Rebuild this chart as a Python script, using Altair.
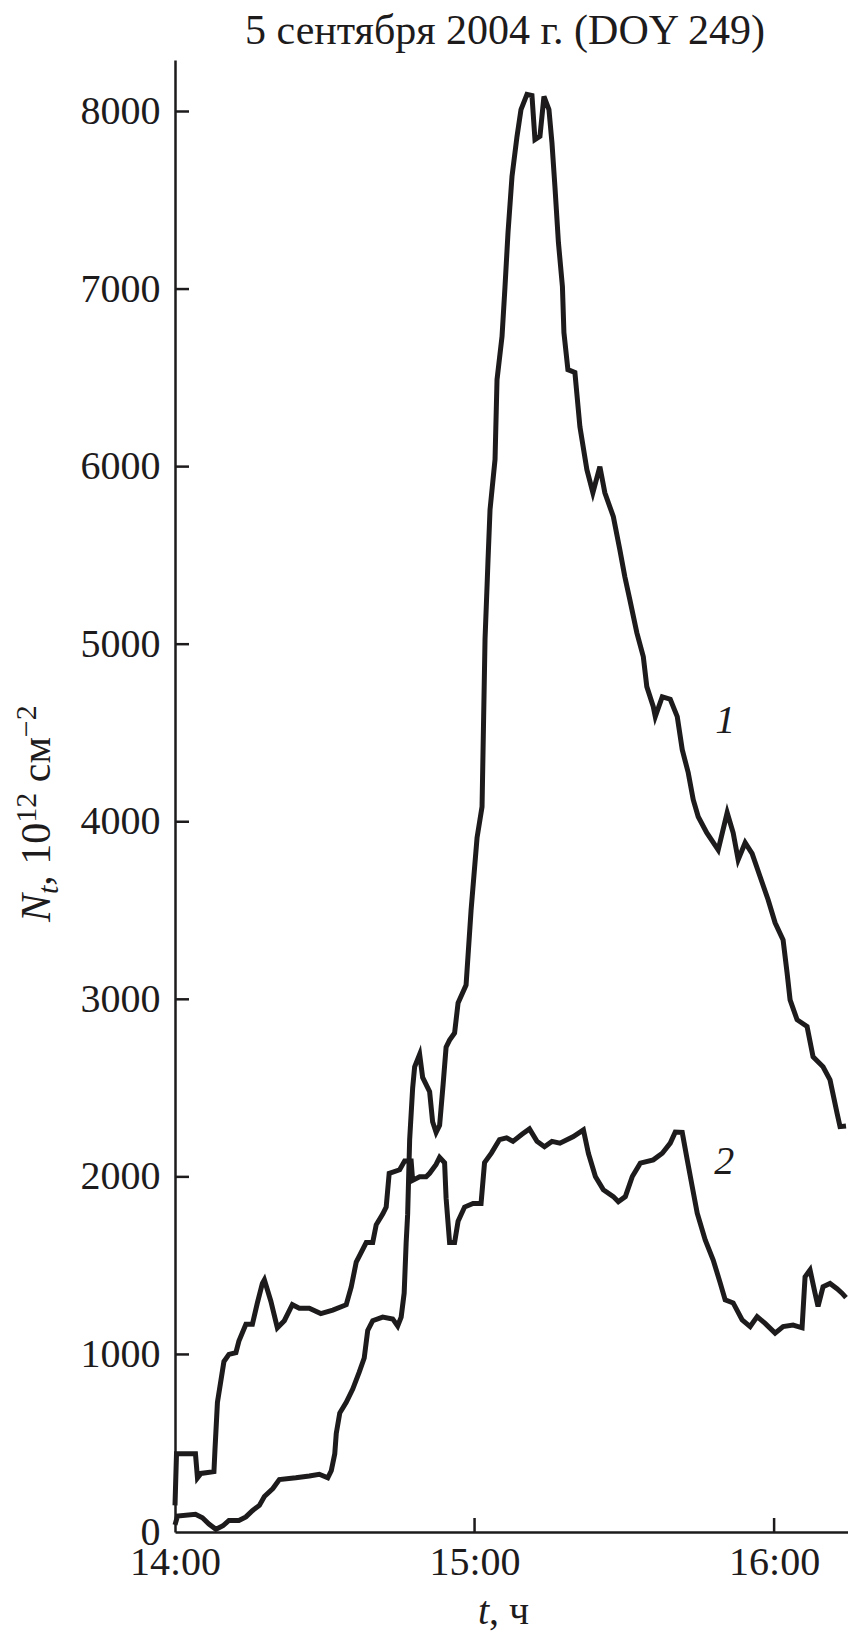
import altair as alt
import pandas as pd

# Curve 1: minutes after 14:00 and N_t (10^12 cm^-2)
T1 = [0.0, 0.5, 4.1, 5.5, 6.8, 8.2, 9.6, 10.8, 12.8, 14.2,
      15.5, 16.9, 17.9, 19.6, 20.9, 24.2, 26.9, 28.9, 30.6, 31.3,
      32.0, 32.3, 33.0, 34.3, 35.6, 36.9, 37.9, 38.6, 39.6, 41.6,
      43.6, 44.6, 45.3, 45.9, 46.3, 46.6, 47.0, 47.6, 48.0, 49.0,
      49.6, 51.0, 51.6, 52.3, 53.0, 53.7, 54.3, 55.0, 56.0, 56.7,
      58.3, 59.3, 60.5, 61.5, 62.1, 62.5, 62.7, 63.1, 64.1, 64.5,
      65.5, 66.1, 66.7, 67.5, 68.5, 69.3, 70.5, 71.5, 72.1, 73.1,
      73.9, 74.9, 75.5, 76.1, 76.8, 77.6, 77.9, 78.7, 80.1, 81.1,
      82.5, 83.7, 85.1, 86.1, 87.8, 89.1, 90.1, 91.1, 92.5, 93.8,
      94.5, 95.8, 96.2, 97.6, 99.2, 100.6, 101.6, 102.8, 103.8, 104.8,
      106.5, 108.8, 110.6, 111.8, 112.8, 114.2, 115.6, 117.2, 118.8, 120.2,
      121.8, 122.6, 123.2, 124.6, 126.6, 127.8, 129.8, 131.2, 132.6, 133.2,
      134.4]
N1 = [40, 90, 100, 80, 45, 15, 35, 65, 65, 85,
      120, 150, 200, 245, 295, 305, 315, 325, 305, 345,
      440, 555, 670, 730, 805, 900, 980, 1135, 1190, 1210,
      1200, 1160, 1210, 1345, 1630, 1790, 2210, 2500, 2620, 2690,
      2560, 2480, 2310, 2250, 2290, 2520, 2730, 2770, 2810, 2980,
      3080, 3500, 3910, 4085, 5030, 5325, 5476, 5758, 6040, 6490,
      6732, 7014, 7318, 7634, 7859, 8011, 8096, 8090, 7842, 7860,
      8085, 8011, 7825, 7577, 7262, 7014, 6755, 6546, 6530, 6225,
      5983, 5853, 6000, 5853, 5718, 5532, 5380, 5251, 5065, 4930,
      4761, 4648, 4592, 4704, 4690, 4592, 4406, 4276, 4124, 4028,
      3938, 3842, 4051, 3938, 3786, 3882, 3820, 3690, 3561, 3431,
      3335, 3149, 2997, 2885, 2847, 2676, 2620, 2546, 2360, 2283,
      2287]

# Curve 2
T2 = [0.0, 0.3, 4.1, 4.5, 5.2, 7.8, 8.0, 8.5, 9.8, 10.8,
      12.2, 12.8, 14.2, 15.5, 16.5, 17.5, 17.9, 19.2, 20.5, 21.9,
      23.5, 24.9, 26.9, 29.2, 31.6, 34.3, 35.3, 36.3, 38.3, 39.6,
      40.3, 41.6, 42.3, 42.9, 45.0, 46.0, 47.3, 47.6, 49.0, 50.3,
      51.0, 52.3, 53.0, 54.0, 54.3, 55.0, 56.0, 56.7, 58.0, 59.7,
      61.3, 62.0, 63.4, 65.0, 66.4, 67.7, 69.5, 71.0, 72.5, 74.0,
      75.5, 77.1, 79.8, 81.8, 82.8, 84.2, 85.8, 87.8, 88.8, 90.2,
      91.6, 93.2, 95.8, 97.6, 99.2, 100.2, 101.6, 102.6, 103.6, 104.6,
      106.2, 107.8, 109.2, 110.2, 111.8, 113.6, 115.2, 116.6, 118.2, 120.2,
      121.8, 123.8, 125.6, 126.2, 127.2, 128.2, 128.8, 129.8, 131.2, 132.6,
      133.6, 134.4]
N2 = [150, 440, 440, 305, 330, 340, 460, 730, 960, 1000,
      1010, 1075, 1170, 1170, 1290, 1400, 1420, 1300, 1150, 1190,
      1280, 1260, 1260, 1230, 1250, 1280, 1380, 1520, 1630, 1630,
      1730, 1790, 1830, 2020, 2040, 2090, 2090, 1980, 2000, 2000,
      2020, 2070, 2110, 2080, 1880, 1630, 1630, 1750, 1830, 1850,
      1850, 2080, 2135, 2210, 2220, 2200, 2240, 2270, 2200, 2170,
      2200, 2190, 2227, 2265, 2133, 2002, 1927, 1889, 1860, 1889,
      2002, 2077, 2096, 2133, 2190, 2252, 2250, 2096, 1945, 1796,
      1645, 1532, 1403, 1307, 1290, 1194, 1157, 1213, 1175, 1120,
      1157, 1165, 1150, 1437, 1476, 1345, 1270, 1381, 1400, 1370,
      1345, 1320]

X_TICKS = [0, 60, 120]
X_TICK_LABELS = ["14:00", "15:00", "16:00"]
Y_TICKS = [0, 1000, 2000, 3000, 4000, 5000, 6000, 7000, 8000]
X_DOMAIN = [0, 134.8]
Y_DOMAIN = [0, 8290]

CURVE_LABELS = ["1", "2"]
CURVE_LABEL_T = [110.2, 110.0]
CURVE_LABEL_N = [4570, 2085]

TITLE = "5 сентября 2004 г. (DOY 249)"

W, H = 673, 1472
FONT = "Liberation Serif"
INK = "#1d1b1c"
FS = 40
FS_TITLE = 42
FS_Y = 42
FS_SMALL = 30

df = pd.DataFrame({
    "t": T1 + T2,
    "n": N1 + N2,
    "s": ["1"] * len(T1) + ["2"] * len(T2),
})

label_expr = "''"
for v, lab in reversed(list(zip(X_TICKS, X_TICK_LABELS))):
    label_expr = f"datum.value == {v} ? '{lab}' : {label_expr}"

xscale = alt.Scale(domain=X_DOMAIN, nice=False, zero=False)
yscale = alt.Scale(domain=Y_DOMAIN, nice=False, zero=False)

xaxis = alt.Axis(values=X_TICKS, labelExpr=label_expr, title=None, ticks=False, tickSize=0,
                 grid=False, labelFont=FONT, labelFontSize=FS, labelPadding=10,
                 labelColor=INK, domainColor=INK, domainWidth=2.5, labelFlush=False,
                 labelOverlap=False)
yaxis = alt.Axis(values=Y_TICKS, format="d", title=None, ticks=False, tickSize=0,
                 grid=False, labelFont=FONT, labelFontSize=FS, labelPadding=15,
                 labelColor=INK, domainColor=INK, domainWidth=2.5, labelFlush=False,
                 labelOverlap=False)

lines = alt.Chart(df).mark_line(strokeWidth=5, strokeJoin="miter", color=INK).encode(
    x=alt.X("t:Q", scale=xscale, axis=xaxis),
    y=alt.Y("n:Q", scale=yscale, axis=yaxis),
    detail="s:N",
)

ytick = alt.Chart(pd.DataFrame({"t": [0] * (len(Y_TICKS) - 1), "n": Y_TICKS[1:]})).mark_rule(
    color=INK, strokeWidth=2.5
).encode(
    y=alt.Y("n:Q", scale=yscale, axis=yaxis),
    x=alt.value(0), x2=alt.value(14),
)
xtick = alt.Chart(pd.DataFrame({"t": X_TICKS[1:]})).mark_rule(color=INK, strokeWidth=2.5).encode(
    x=alt.X("t:Q", scale=xscale, axis=xaxis),
    y=alt.value(H), y2=alt.value(H - 14),
)

labels = alt.Chart(pd.DataFrame({"t": CURVE_LABEL_T, "n": CURVE_LABEL_N, "lab": CURVE_LABELS})).mark_text(
    font=FONT, fontSize=FS, fontStyle="italic", color=INK, align="center", baseline="middle"
).encode(
    x=alt.X("t:Q", scale=xscale, axis=xaxis),
    y=alt.Y("n:Q", scale=yscale, axis=yaxis),
    text="lab:N",
)

one = pd.DataFrame({"k": [0]})


def txt(s, x, y, size=FS, style="normal", align="left", baseline="alphabetic", angle=0):
    kw = dict(font=FONT, fontSize=size, fontStyle=style, color=INK, align=align,
              baseline=baseline, text=s)
    if angle:
        kw["angle"] = angle
    return alt.Chart(one).mark_text(**kw).encode(x=alt.value(x), y=alt.value(y))


title = txt(TITLE, 330, -16, size=FS_TITLE, align="center")

# x-axis title: italic t, then ", ч"
xt1 = txt("t", 303, 1564, style="italic")
xt2 = txt(", ч", 314, 1564)

# y-axis title, rotated: N_t, 10^12 см^-2
bx = -125
yt = [
    txt("N", bx, 862, size=FS_Y, style="italic", angle=270),
    txt("t", bx + 8, 834, size=FS_SMALL, style="italic", angle=270),
    txt(", 10", bx, 825.7, size=FS_Y, angle=270),
    txt("12", bx - 14, 762.7, size=FS_SMALL, angle=270),
    txt("см", bx, 722.2, size=FS_Y, angle=270),
    txt("−2", bx - 14, 677.2, size=FS_SMALL, angle=270),
]

chart = alt.layer(lines, ytick, xtick, labels, title, xt1, xt2, *yt).properties(
    width=W, height=H,
    padding={"left": 167, "top": 52, "right": 0, "bottom": 101},
    autosize=alt.AutoSizeParams(type="none"),
).configure_view(stroke=None)

chart.save("out.html", embed_options={"renderer": "svg", "actions": False})
